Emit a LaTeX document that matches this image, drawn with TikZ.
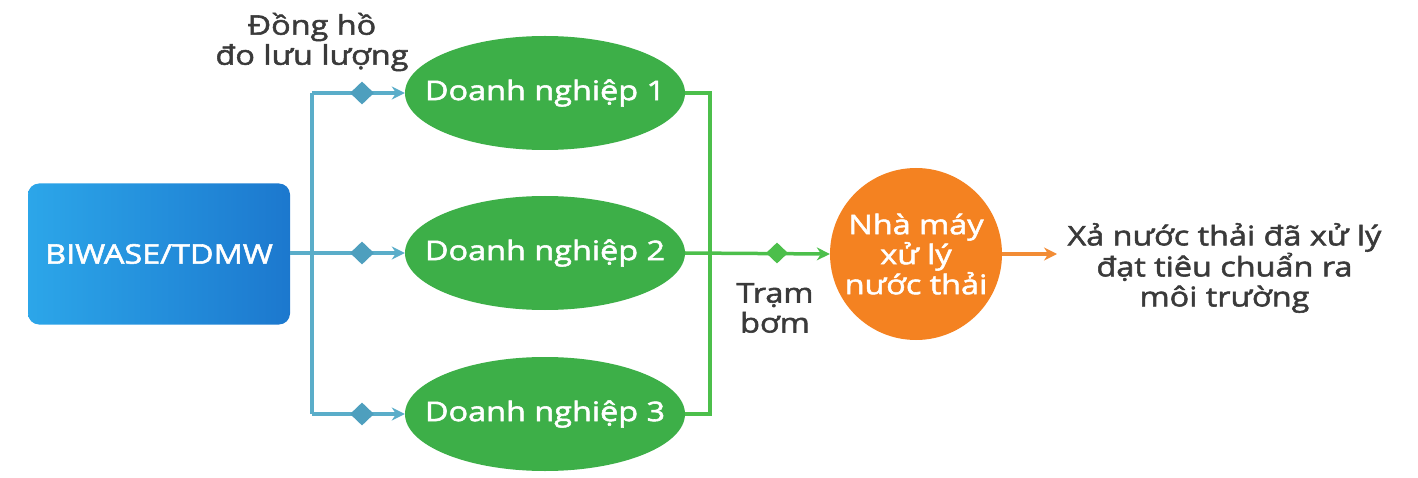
\documentclass[tikz,border=0pt]{standalone}
\usepackage{fontspec}
\setmainfont{Open Sans}[FakeStretch=1.2, FakeBold=2]
\usetikzlibrary{shapes.geometric,arrows.meta}
\definecolor{boxL}{HTML}{2CA6E9}
\definecolor{boxR}{HTML}{1C78CE}
\definecolor{pipeblue}{HTML}{5AADC9}
\definecolor{diamblue}{HTML}{4E9FBE}
\definecolor{entgreen}{HTML}{3DAF48}
\definecolor{pipegreen}{HTML}{4CBF4B}
\definecolor{plantorange}{HTML}{F48221}
\definecolor{pipeorange}{HTML}{F28C35}
\definecolor{darktext}{HTML}{3A3A3A}
\tikzset{
  srcbox/.style={rectangle, rounded corners=11pt, minimum width=262pt, minimum height=141pt,
    left color=boxL, right color=boxR, text=white, inner sep=0pt},
  ent/.style={ellipse, fill=entgreen, minimum width=280pt, minimum height=114pt, inner xsep=-40pt, inner ysep=0pt, text=white},
  plant/.style={circle, fill=plantorange, minimum size=172pt, inner sep=0pt, text=white, align=center},
  meter/.style={diamond, fill=diamblue, minimum width=24pt, minimum height=23pt, inner sep=0pt},
  pump/.style={diamond, fill=pipegreen, minimum width=22pt, minimum height=21pt, inner sep=0pt},
  bluepipe/.style={draw=pipeblue, line width=4pt},
  greenpipe/.style={draw=pipegreen, line width=3.5pt},
  orangepipe/.style={draw=pipeorange, line width=3.5pt},
  tip/.style={-{Stealth[length=13pt,width=13pt]}},
  lbl/.style={text=darktext, align=center},
  bigfont/.style={font=\fontsize{27}{30}\selectfont}
}
\begin{document}
\begin{tikzpicture}[x=1pt,y=-1pt, bigfont]
\useasboundingbox (0,0) rectangle (1418,478);
% nodes
\node[srcbox] (src) at (159,254) {BIWASE/TDMW};
\node[ent] (e1) at (545,93) {Doanh nghiệp 1};
\node[ent] (e2) at (545,253) {Doanh nghiệp 2};
\node[ent] (e3) at (545,414) {Doanh nghiệp 3};
\node[plant] (wwtp) at (916,254) {Nhà máy\\xử lý\\nước thải};
\coordinate (jt) at (312,93);
\coordinate (jm) at (312,253);
\coordinate (jb) at (312,414);
\coordinate (gt) at (710,93);
\coordinate (gm) at (710,253);
\coordinate (gb) at (710,414);
\coordinate (out) at (1057,254);
% blue pipes
\draw[bluepipe] (jt) -- (jb);
\draw[bluepipe] (src.east |- jm) -- (jm);
\draw[bluepipe, tip] (jt) -- (e1.west);
\draw[bluepipe, tip] (jm) -- (e2.west);
\draw[bluepipe, tip] (jb) -- (e3.west);
\node[meter] (m1) at (362,93) {};
\node[meter] (m2) at (362,253) {};
\node[meter] (m3) at (362,414) {};
% green pipes
\draw[greenpipe] (e1.east) -- (gt) -- (gb) -- (e3.east);
\draw[greenpipe, tip] (e2.east) -- (wwtp.west);
\node[pump] (p) at (777,253) {};
% orange pipe
\draw[orangepipe, tip] (wwtp.east) -- (out);
% labels
\node[lbl] (meterlbl) at (312,42) {Đồng hồ\\đo lưu lượng};
\node[lbl] (pumplbl) at (775,308) {Trạm\\bơm};
\node[lbl, anchor=west] (outlbl) at (1064,268) {Xả nước thải đã xử lý\\đạt tiêu chuẩn ra\\môi trường};
\end{tikzpicture}
\end{document}
